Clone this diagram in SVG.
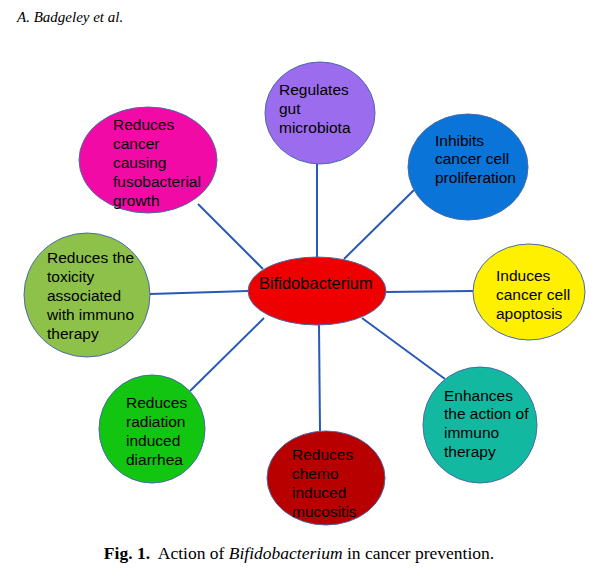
<svg xmlns="http://www.w3.org/2000/svg" width="600" height="587" viewBox="0 0 600 587">
<style>
.n{stroke:#4a6aa8;stroke-width:1}
.t{font-family:"Liberation Sans",Arial,sans-serif;font-size:15.5px;fill:#000}
.c{stroke:#2858b8;stroke-width:2;fill:none}
</style>
<rect width="600" height="587" fill="#fff"/>
<text x="17" y="22" font-family="'Liberation Serif',serif" font-style="italic" font-size="15">A. Badgeley et al.</text>
<g id="connectors">
<line class="c" x1="317" y1="257" x2="317" y2="164"/>
<line class="c" x1="344" y1="259" x2="414" y2="190"/>
<line class="c" x1="263" y1="269" x2="198" y2="204"/>
<line class="c" x1="248" y1="291" x2="150" y2="294"/>
<line class="c" x1="386" y1="292" x2="473" y2="291"/>
<line class="c" x1="362" y1="318" x2="445" y2="379"/>
<line class="c" x1="264" y1="318" x2="190" y2="391"/>
<line class="c" x1="319" y1="325" x2="320" y2="431"/>
</g>
<g id="center">
<ellipse class="n" cx="317" cy="291" rx="69" ry="34" fill="#ee0000"/>
<text class="t" x="259" y="289" style="font-size:16.5px">Bifidobacterium</text>
</g>
<g id="n-gut">
<ellipse class="n" cx="320" cy="113" rx="55" ry="51" fill="#9b6cee"/>
<text class="t" x="279"><tspan x="279" y="95">Regulates</tspan><tspan x="279" y="114">gut</tspan><tspan x="279" y="133">microbiota</tspan></text>
</g>
<g id="n-fuso">
<ellipse class="n" cx="148" cy="160" rx="69" ry="53" fill="#f20aa6"/>
<text class="t"><tspan x="113" y="130">Reduces</tspan><tspan x="113" y="149">cancer</tspan><tspan x="113" y="168">causing</tspan><tspan x="113" y="187">fusobacterial</tspan><tspan x="113" y="206">growth</tspan></text>
</g>
<g id="n-prolif">
<ellipse class="n" cx="468" cy="167" rx="60" ry="53" fill="#0a74d8"/>
<text class="t"><tspan x="435" y="146">Inhibits</tspan><tspan x="435" y="164">cancer cell</tspan><tspan x="435" y="183">proliferation</tspan></text>
</g>
<g id="n-toxicity">
<ellipse class="n" cx="87" cy="295" rx="63" ry="62" fill="#8dc14a"/>
<text class="t"><tspan x="47" y="263">Reduces the</tspan><tspan x="47" y="282">toxicity</tspan><tspan x="47" y="301">associated</tspan><tspan x="47" y="320">with immuno</tspan><tspan x="47" y="339">therapy</tspan></text>
</g>
<g id="n-apoptosis">
<ellipse class="n" cx="529" cy="292" rx="56" ry="48" fill="#fff000"/>
<text class="t"><tspan x="496" y="281">Induces</tspan><tspan x="496" y="300">cancer cell</tspan><tspan x="496" y="319">apoptosis</tspan></text>
</g>
<g id="n-immuno">
<ellipse class="n" cx="480" cy="425" rx="57" ry="58" fill="#12b8a0"/>
<text class="t"><tspan x="444" y="401">Enhances</tspan><tspan x="444" y="419">the action of</tspan><tspan x="444" y="438">immuno</tspan><tspan x="444" y="457">therapy</tspan></text>
</g>
<g id="n-radiation">
<ellipse class="n" cx="152" cy="429" rx="53" ry="54" fill="#11c511"/>
<text class="t"><tspan x="126" y="408">Reduces</tspan><tspan x="126" y="427">radiation</tspan><tspan x="126" y="446">induced</tspan><tspan x="126" y="465">diarrhea</tspan></text>
</g>
<g id="n-chemo">
<ellipse class="n" cx="326" cy="478" rx="59" ry="47" fill="#b80000"/>
<text class="t"><tspan x="292" y="460">Reduces</tspan><tspan x="292" y="479">chemo</tspan><tspan x="292" y="498">induced</tspan><tspan x="292" y="517">mucositis</tspan></text>
</g>
<text x="299" y="559" text-anchor="middle" font-family="'Liberation Serif',serif" font-size="17.5" xml:space="preserve"><tspan font-weight="bold">Fig. 1.</tspan>  Action of <tspan font-style="italic">Bifidobacterium</tspan> in cancer prevention.</text>
</svg>
